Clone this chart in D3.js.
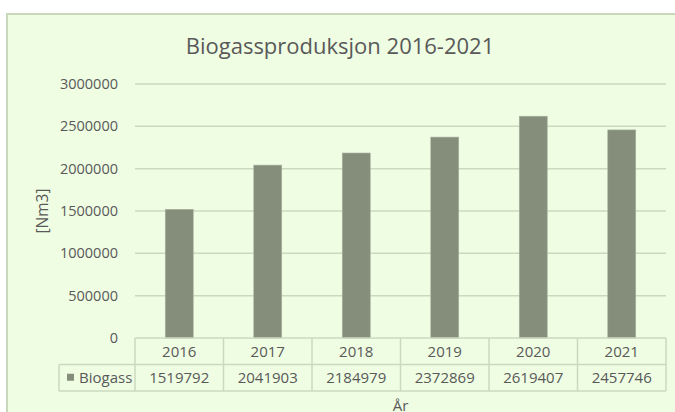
<!DOCTYPE html>
<html>
<head>
<meta charset="utf-8">
<script src="https://cdn.jsdelivr.net/npm/d3@7"></script>
<style>
  body { margin: 0; background: #ffffff; }
  svg { display: block; font-family: "Open Sans", "Noto Sans", sans-serif; }
</style>
</head>
<body>
<svg id="chart" width="675" height="412"></svg>
<script>
var years = ["2016", "2017", "2018", "2019", "2020", "2021"];
var biogass = [1519792, 2041903, 2184979, 2372869, 2619407, 2457746];
var yTicks = [0, 500000, 1000000, 1500000, 2000000, 2500000, 3000000];
var seriesName = "Biogass";

var textColor = "#595959",
    lineColor = "#cbd9bf",
    barColor = "#858d7b";

var svg = d3.select("#chart");

// chart area background + border
svg.append("rect")
    .attr("x", 7).attr("y", 14)
    .attr("width", 675).attr("height", 412)
    .attr("fill", "#effde3")
    .attr("stroke", "#c9d8bb")
    .attr("stroke-width", 2);

var plotLeft = 135, plotRight = 666, plotTop = 84, plotBottom = 338;
var rowH = 26.5;

var x = d3.scaleBand().domain(years).range([plotLeft, plotRight]).padding(0);
var y = d3.scaleLinear().domain([0, 3000000]).range([plotBottom, plotTop]);

// title
svg.append("text")
    .attr("x", 340).attr("y", 54)
    .attr("text-anchor", "middle")
    .attr("fill", textColor)
    .style("font-size", "22px")
    .text("Biogassproduksjon 2016-2021");

// gridlines
svg.append("g")
    .selectAll("line")
    .data(yTicks.filter(function(d) { return d > 0; }))
    .enter().append("line")
    .attr("x1", plotLeft).attr("x2", plotRight)
    .attr("y1", function(d) { return y(d); })
    .attr("y2", function(d) { return y(d); })
    .attr("stroke", lineColor)
    .attr("stroke-width", 1.5);

// y axis labels
var yAxis = svg.append("g")
    .attr("transform", "translate(" + (plotLeft - 17) + ",0)")
    .call(d3.axisLeft(y).tickValues(yTicks).tickFormat(d3.format("d")).tickSize(0).tickPadding(0));
yAxis.select(".domain").remove();
yAxis.selectAll("text")
    .attr("fill", textColor)
    .style("font-size", "14.5px")
    .style("font-family", "'Open Sans', sans-serif");

// y axis title
svg.append("text")
    .attr("transform", "translate(48," + ((plotTop + plotBottom) / 2) + ") rotate(-90)")
    .attr("text-anchor", "middle")
    .attr("fill", textColor)
    .style("font-size", "15.5px")
    .text("[Nm3]");

// bars
var barW = x.bandwidth() * 0.316;
svg.append("g")
    .selectAll("rect")
    .data(years)
    .enter().append("rect")
    .attr("x", function(d) { return x(d) + (x.bandwidth() - barW) / 2; })
    .attr("y", function(d, i) { return y(biogass[i]); })
    .attr("width", barW)
    .attr("height", function(d, i) { return y(0) - y(biogass[i]); })
    .attr("fill", barColor)
    .attr("stroke", "#a9b19f")
    .attr("stroke-width", 0.6);

// data table
var legendLeft = 59;
var table = svg.append("g")
    .attr("fill", "none")
    .attr("stroke", lineColor)
    .attr("stroke-width", 1.5);

table.append("line").attr("x1", plotLeft).attr("x2", plotRight).attr("y1", plotBottom).attr("y2", plotBottom);
table.append("line").attr("x1", legendLeft).attr("x2", plotRight).attr("y1", plotBottom + rowH).attr("y2", plotBottom + rowH);
table.append("line").attr("x1", legendLeft).attr("x2", plotRight).attr("y1", plotBottom + 2 * rowH).attr("y2", plotBottom + 2 * rowH);
table.append("line").attr("x1", legendLeft).attr("x2", legendLeft).attr("y1", plotBottom + rowH).attr("y2", plotBottom + 2 * rowH);
table.selectAll(".vline")
    .data(years.concat(["end"]))
    .enter().append("line")
    .attr("x1", function(d) { return d === "end" ? plotRight : x(d); })
    .attr("x2", function(d) { return d === "end" ? plotRight : x(d); })
    .attr("y1", plotBottom)
    .attr("y2", plotBottom + 2 * rowH);

var cells = svg.append("g")
    .attr("fill", textColor)
    .style("font-size", "15px")
    .attr("text-anchor", "middle");

cells.selectAll(".yr")
    .data(years)
    .enter().append("text")
    .attr("x", function(d) { return x(d) + x.bandwidth() / 2; })
    .attr("y", plotBottom + rowH / 2 + 5.5)
    .text(function(d) { return d; });

cells.selectAll(".val")
    .data(biogass)
    .enter().append("text")
    .attr("x", function(d, i) { return x(years[i]) + x.bandwidth() / 2; })
    .attr("y", plotBottom + rowH * 1.5 + 5.5)
    .text(function(d) { return d; });

// legend key in table
svg.append("rect")
    .attr("x", 67).attr("y", plotBottom + rowH * 1.5 - 4)
    .attr("width", 7).attr("height", 7)
    .attr("fill", barColor);
svg.append("text")
    .attr("x", 79).attr("y", plotBottom + rowH * 1.5 + 5.5)
    .attr("fill", textColor)
    .style("font-size", "15px")
    .text(seriesName);

// x axis title
svg.append("text")
    .attr("x", (plotLeft + plotRight) / 2).attr("y", 411)
    .attr("text-anchor", "middle")
    .attr("fill", textColor)
    .style("font-size", "15px")
    .text("År");
</script>
</body>
</html>
